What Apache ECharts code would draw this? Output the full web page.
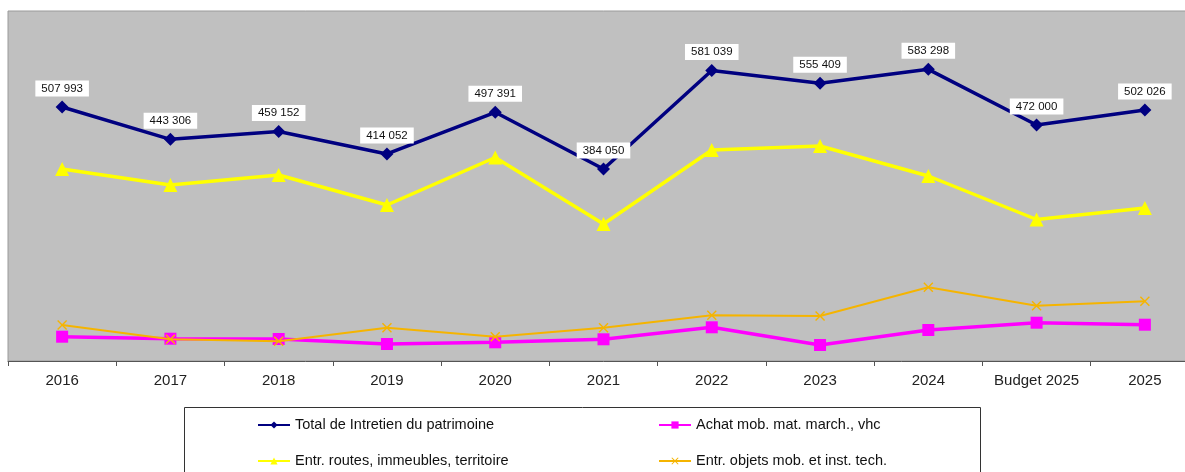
<!DOCTYPE html>
<html>
<head>
<meta charset="utf-8">
<script src="https://cdn.jsdelivr.net/npm/echarts@6/dist/echarts.min.js"></script>
<style>
html,body{margin:0;padding:0;background:#fff;overflow:hidden;}
#c{width:1200px;height:472px;}
</style>
</head>
<body>
<div id="c"></div>
<script>
var categories = ['2016','2017','2018','2019','2020','2021','2022','2023','2024','Budget 2025','2025'];
var totalEntretien = [507993, 443306, 459152, 414052, 497391, 384050, 581039, 555409, 583298, 472000, 502026];
var entrRoutes = [384000, 352000, 372000, 312000, 407000, 274000, 422000, 430000, 370000, 283000, 306000];
var achatMob = [48600, 44600, 44000, 34000, 37400, 43400, 67400, 32000, 62000, 76600, 72600];
var entrObjets = [72000, 43400, 39400, 66600, 48600, 66600, 91400, 90000, 147400, 110600, 119400];
var seriesNames = ['Total de Intretien du patrimoine', 'Achat mob. mat. march., vhc', 'Entr. routes, immeubles, territoire', 'Entr. objets mob. et inst. tech.'];

function fmt(v){ return String(v).replace(/\B(?=(\d{3})+(?!\d))/g, ' '); }

var xPath = 'path://M0,1 L1,0 L5,4 L9,0 L10,1 L6,5 L10,9 L9,10 L5,6 L1,10 L0,9 L4,5 Z';
var font = 'Arial, "Liberation Sans", sans-serif';

var chart = echarts.init(document.getElementById('c'), null, {renderer:'canvas'});
function legend(name, left, top){
  return {
    data:[name], left:left, top:top, padding:0, itemWidth:32, itemHeight:9, itemGap:6,
    textStyle:{fontFamily:font, fontSize:14.5, color:'#111', lineHeight:16}
  };
}
chart.setOption({
  animation:false,
  grid:{left:8, top:11, width:1191, height:350, show:true, backgroundColor:'#C0C0C0', borderColor:'#9a9a9a', borderWidth:1},
  xAxis:{
    type:'category', data:categories, boundaryGap:true,
    axisLine:{lineStyle:{color:'#555', width:1}},
    axisTick:{show:true, length:5, interval:0, lineStyle:{color:'#555'}},
    axisLabel:{fontFamily:font, fontSize:15, color:'#222', margin:12, interval:0}
  },
  yAxis:{type:'value', min:0, max:700000, show:false, splitLine:{show:false}},
  legend:[
    legend(seriesNames[0], 257, 417),
    legend(seriesNames[1], 658, 417),
    legend(seriesNames[2], 257, 453),
    legend(seriesNames[3], 658, 453)
  ],
  graphic:[{type:'rect', shape:{x:184.5, y:407.5, width:796, height:80}, style:{fill:'none', stroke:'#333', lineWidth:1}, z:-1}],
  series:[
    {name:seriesNames[0], type:'line', data:totalEntretien, symbol:'diamond', symbolSize:13,
     lineStyle:{color:'#000080', width:3.5}, itemStyle:{color:'#000080'},
     label:{show:true, position:'top', distance:4, formatter:function(p){return fmt(p.value);},
            backgroundColor:'#fff', padding:[2,6,2,6], color:'#111', fontFamily:font, fontSize:11.5}, z:5},
    {name:seriesNames[1], type:'line', data:achatMob, symbol:'rect', symbolSize:12,
     lineStyle:{color:'#FF00FF', width:3.5}, itemStyle:{color:'#FF00FF'}, z:3},
    {name:seriesNames[2], type:'line', data:entrRoutes, symbol:'triangle', symbolSize:14,
     lineStyle:{color:'#FFFF00', width:3.5}, itemStyle:{color:'#FFFF00'}, z:4},
    {name:seriesNames[3], type:'line', data:entrObjets, symbol:xPath, symbolSize:10,
     lineStyle:{color:'#F5B400', width:2}, itemStyle:{color:'#F5B400'}, z:4}
  ]
});
</script>
</body>
</html>
